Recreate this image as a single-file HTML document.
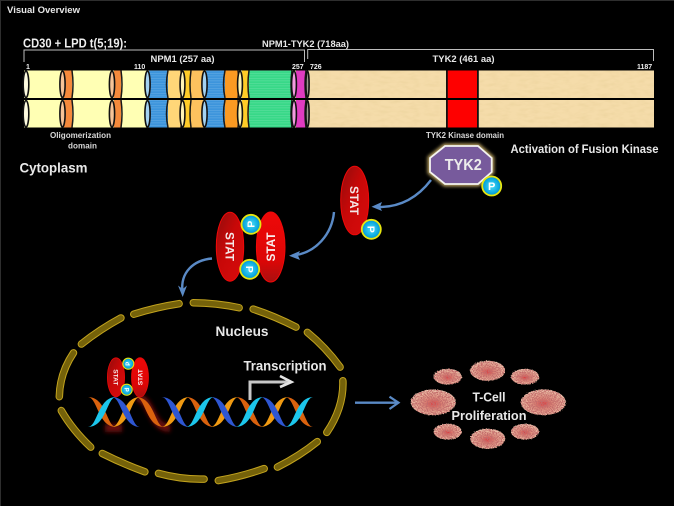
<!DOCTYPE html>
<html>
<head>
<meta charset="utf-8">
<style>
html,body{margin:0;padding:0;background:#000;}
svg{display:block;}
text{font-family:"Liberation Sans",sans-serif;}
</style>
</head>
<body>
<svg xmlns="http://www.w3.org/2000/svg" width="674" height="506" viewBox="0 0 674 506">
<defs>
  <linearGradient id="red" x1="0" y1="0" x2="1" y2="1">
    <stop offset="0" stop-color="#8f0d0d"/><stop offset=".45" stop-color="#c80808"/><stop offset="1" stop-color="#d80c0c"/>
  </linearGradient>
  <linearGradient id="red2" x1="0" y1="0" x2="0" y2="1">
    <stop offset="0" stop-color="#ee0808"/><stop offset=".7" stop-color="#dc0606"/><stop offset="1" stop-color="#a81010"/>
  </linearGradient>
  <radialGradient id="pg" cx=".5" cy=".5" r=".55">
    <stop offset="0" stop-color="#4fdcf5"/><stop offset=".7" stop-color="#0aa9e0"/><stop offset="1" stop-color="#0878b8"/>
  </radialGradient>
  <radialGradient id="cell" cx=".5" cy=".55" r=".55">
    <stop offset="0" stop-color="#d8383c"/><stop offset=".35" stop-color="#dc8676"/><stop offset=".85" stop-color="#ecbea6"/><stop offset="1" stop-color="#f0d2bc"/>
  </radialGradient>
  <pattern id="lines" width="4" height="2.500" patternUnits="userSpaceOnUse"><rect width="4" height=".7" fill="#fff" opacity=".16"/></pattern>
  <filter id="paper" x="0" y="0" width="100%" height="100%">
    <feTurbulence type="fractalNoise" baseFrequency=".1 .3" numOctaves="3" seed="4" result="n"/>
    <feColorMatrix in="n" type="matrix" values="0 0 0 0 .8  0 0 0 0 .62  0 0 0 0 .3  .9 0 0 0 -.34" result="c"/>
    <feComposite in="c" in2="SourceGraphic" operator="atop"/>
  </filter>
  <filter id="speck" x="-10%" y="-10%" width="120%" height="120%">
    <feTurbulence type="fractalNoise" baseFrequency=".8" numOctaves="2" seed="7" result="n"/>
    <feDisplacementMap in="SourceGraphic" in2="n" scale="2" result="d"/>
    <feColorMatrix in="n" type="matrix" values="0 0 0 0 .55  0 0 0 0 .15  0 0 0 0 .15  4.500 0 0 0 -1.700" result="c"/>
    <feComposite in="c" in2="d" operator="atop" result="s"/>
    <feMerge><feMergeNode in="d"/><feMergeNode in="s"/></feMerge>
  </filter>
  <filter id="blur" x="-20%" y="-40%" width="140%" height="180%"><feGaussianBlur stdDeviation="2"/></filter>
  <filter id="glow" x="-20%" y="-20%" width="140%" height="140%"><feGaussianBlur stdDeviation="1.6"/></filter>

  <g id="bar">
    <rect x="24" y="0" width="285" height="27.5" fill="#ffffb4"/>
    <rect x="64" y="0" width="8" height="27.5" fill="#f58a3c"/>
    <rect x="114" y="0" width="7" height="27.5" fill="#f58a3c"/>
    <rect x="149" y="0" width="19" height="27.5" fill="#3d95dc"/>
    <rect x="168" y="0" width="13" height="27.5" fill="#ffd678"/>
    <rect x="184" y="0" width="7" height="27.5" fill="#ffcc28"/>
    <rect x="191" y="0" width="12" height="27.5" fill="#fdc25e"/>
    <rect x="206" y="0" width="19" height="27.5" fill="#3d95dc"/>
    <rect x="225" y="0" width="13" height="27.5" fill="#fb9a22"/>
    <rect x="242" y="0" width="7" height="27.5" fill="#ffcc28"/>
    <rect x="249" y="0" width="43" height="27.5" fill="#38d888"/>
    <rect x="296" y="0" width="10" height="27.5" fill="#e03cc0"/>
    <rect x="149" y="0" width="19" height="27.5" fill="url(#lines)"/>
    <rect x="206" y="0" width="19" height="27.5" fill="url(#lines)"/>
    <rect x="249" y="0" width="43" height="27.5" fill="url(#lines)"/>
    <rect x="309" y="0" width="137.500" height="27.5" fill="#f5dcaa" filter="url(#paper)"/>
    <rect x="447" y="0" width="30" height="27.5" fill="#fe0000"/>
    <rect x="478.500" y="0" width="175.500" height="27.5" fill="#f5dcaa" filter="url(#paper)"/>
    <rect x="446" y="0" width="1.800" height="27.5" fill="#111"/>
    <rect x="477" y="0" width="1.800" height="27.5" fill="#111"/>
    <g fill="none" stroke="#1a1a1a" stroke-width="1.500">
      <path d="M72,0Q74,14 72,27.500"/><path d="M121,0Q123,14 121,27.500"/>
      <path d="M168,0Q165,14 168,27.500"/><path d="M181,0Q183,14 181,27.500"/>
      <path d="M191,0Q189,14 191,27.500"/><path d="M225,0Q222,14 225,27.500"/>
      <path d="M238,0Q240,14 238,27.500"/><path d="M249,0Q247,14 249,27.500"/>
      <path d="M292,0Q290,14 292,27.500"/>
      <path d="M306,0Q304,14 306,27.500"/>
    </g>
    <g stroke="#111" stroke-width="1.600">
      <ellipse cx="26" cy="13.800" rx="2.800" ry="13.300" fill="#fffce0"/>
      <ellipse cx="62.500" cy="13.800" rx="2.600" ry="13.300" fill="#f6c498"/>
      <ellipse cx="112" cy="13.800" rx="2.600" ry="13.300" fill="#f6c498"/>
      <ellipse cx="147.500" cy="13.800" rx="2.600" ry="13.300" fill="#a3d2f2"/>
      <ellipse cx="182.500" cy="13.800" rx="2.400" ry="13.300" fill="#fff4b4"/>
      <ellipse cx="204.500" cy="13.800" rx="2.600" ry="13.300" fill="#a3d2f2"/>
      <ellipse cx="240" cy="13.800" rx="2.400" ry="13.300" fill="#fff4b4"/>
      <ellipse cx="294" cy="13.800" rx="2.400" ry="13.300" fill="#f29ade"/>
      <ellipse cx="307.500" cy="13.800" rx="1.600" ry="13.300" fill="#9a9a8c"/>
    </g>
  </g>

  <g id="pball">
    <circle r="9.500" fill="url(#pg)" stroke="#e6e610" stroke-width="1.800"/>
  </g>

  <path id="dn" d="M-2,0C17,0 17,30 26.500,30C8,30 8,0 -2,0Z"/>
  <path id="up" d="M-2,30C17,30 17,0 26.500,0C8,0 8,30 -2,30Z"/>

  <g id="nuc">
    <path pathLength="100" stroke-dasharray="90 100" stroke-dashoffset="-5" d="M131.300,315Q156,307 181.700,303.300"/>
    <path pathLength="100" stroke-dasharray="90 100" stroke-dashoffset="-5" d="M190.700,302.700Q216,302.500 241.700,308.300"/>
    <path pathLength="100" stroke-dasharray="90 100" stroke-dashoffset="-5" d="M250.700,308.300Q275,316 298.300,328.300"/>
    <path pathLength="100" stroke-dasharray="90 100" stroke-dashoffset="-5" d="M305.300,330.700Q326,347 341.700,369.300"/>
    <path pathLength="100" stroke-dasharray="90 100" stroke-dashoffset="-5" d="M342.700,377.700Q345,407 325,435"/>
    <path pathLength="100" stroke-dasharray="90 100" stroke-dashoffset="-5" d="M319.300,440Q300,456 275,468.300"/>
    <path pathLength="100" stroke-dasharray="90 100" stroke-dashoffset="-5" d="M266.700,467.700Q241,477 215.700,481"/>
    <path pathLength="100" stroke-dasharray="90 100" stroke-dashoffset="-5" d="M206.700,479Q181,480 156,472.700"/>
    <path pathLength="100" stroke-dasharray="90 100" stroke-dashoffset="-5" d="M147.300,472.700Q123,464 100,452.300"/>
    <path pathLength="100" stroke-dasharray="90 100" stroke-dashoffset="-5" d="M92.700,449Q72,430 60,408.300"/>
    <path pathLength="100" stroke-dasharray="90 100" stroke-dashoffset="-5" d="M59.300,399.300Q59,373 75,350.700"/>
    <path pathLength="100" stroke-dasharray="90 100" stroke-dashoffset="-5" d="M79.300,345.700Q100,329 123.300,316.700"/>
  </g>
</defs>

<rect width="674" height="506" fill="#000"/>
<path d="M.5,506V.5H674" fill="none" stroke="#2e2e2e" stroke-width="1"/>

<text x="7" y="13" font-size="9" font-weight="bold" fill="#e8e8e8" textLength="73" lengthAdjust="spacingAndGlyphs">Visual Overview</text>
<text x="23" y="47.500" font-size="13" font-weight="bold" fill="#eee" textLength="104" lengthAdjust="spacingAndGlyphs">CD30 + LPD t(5;19):</text>
<text x="262" y="47" font-size="9.500" font-weight="bold" fill="#e8e8e8" textLength="87" lengthAdjust="spacingAndGlyphs">NPM1-TYK2  (718aa)</text>

<path d="M24,62V50H304.500V62" fill="none" stroke="#bdbdbd" stroke-width="1"/>
<path d="M307.700,59V49.500H653.500V61" fill="none" stroke="#bdbdbd" stroke-width="1"/>

<text x="150.500" y="62" font-size="9.500" font-weight="bold" fill="#e8e8e8" textLength="64" lengthAdjust="spacingAndGlyphs">NPM1 (257 aa)</text>
<text x="432.500" y="62" font-size="9.500" font-weight="bold" fill="#e8e8e8" textLength="62" lengthAdjust="spacingAndGlyphs">TYK2 (461 aa)</text>

<g font-size="7" font-weight="bold" fill="#eee">
  <text x="26" y="69">1</text>
  <text x="134" y="69">110</text>
  <text x="292" y="69">257</text>
  <text x="310" y="69">726</text>
  <text x="637" y="69">1187</text>
</g>

<use href="#bar" x="0" y="70.500"/>
<use href="#bar" x="0" y="100"/>

<text x="80.500" y="138" text-anchor="middle" font-size="8.500" font-weight="bold" fill="#d8d8d8" textLength="61" lengthAdjust="spacingAndGlyphs">Oligomerization</text>
<text x="82.500" y="148.500" text-anchor="middle" font-size="8.500" font-weight="bold" fill="#d8d8d8" textLength="29" lengthAdjust="spacingAndGlyphs">domain</text>
<text x="465" y="138" text-anchor="middle" font-size="8" font-weight="bold" fill="#d8d8d8" textLength="78" lengthAdjust="spacingAndGlyphs">TYK2 Kinase domain</text>
<text x="19.500" y="172.700" font-size="14" font-weight="bold" fill="#e8e8e8" textLength="68" lengthAdjust="spacingAndGlyphs">Cytoplasm</text>
<text x="510.500" y="153" font-size="11.500" font-weight="bold" fill="#e8e8e8" textLength="148" lengthAdjust="spacingAndGlyphs">Activation of Fusion Kinase</text>

<!-- TYK2 -->
<polygon points="445,146 478,146 491.700,158 491.700,172 478,184 445,184 430,172 430,158" fill="none" stroke="#b8a060" stroke-width="5" filter="url(#glow)"/>
<polygon points="445,146 478,146 491.700,158 491.700,172 478,184 445,184 430,172 430,158" fill="#775a9c" stroke="#f4f4f0" stroke-width="1.800"/>
<text x="463.300" y="170" text-anchor="middle" font-size="15.500" font-weight="bold" fill="#ececec" textLength="37" lengthAdjust="spacingAndGlyphs">TYK2</text>
<use href="#pball" x="491.700" y="186"/>
<text x="491.700" y="190" text-anchor="middle" font-size="11" font-weight="bold" fill="#fff">P</text>

<!-- arrows -->
<g fill="none" stroke="#5a8ac6" stroke-width="2.400">
  <path d="M431,180C418,197 400,208 376,207"/>
  <path d="M334,212C332,234 316,253 293,255.500"/>
  <path d="M212,258.500C194,260 180,272 182.500,292"/>
  <path d="M355,402.700H398"/>
  <path d="M389.500,396.700L398.500,402.700L389.500,409" stroke-width="2.200"/>
</g>
<g fill="#5a8ac6">
  <path d="M371.500,206.700L382,202L380,207L382,211Z"/>
  <path d="M289,255.700L300,251L298,255.500L300,260Z"/>
  <path d="M182.700,297L178,285.500L182.700,289L187,285.500Z"/>
</g>

<!-- single STAT -->
<ellipse cx="354.700" cy="200.500" rx="14" ry="34.300" fill="url(#red)" stroke="#f00808" stroke-width="1"/>
<text transform="translate(350,200.500) rotate(90)" text-anchor="middle" font-size="11.500" font-weight="bold" fill="#f4e8e8" textLength="29" lengthAdjust="spacingAndGlyphs">STAT</text>
<use href="#pball" x="371.300" y="229.300"/>
<text transform="translate(367.500,229.300) rotate(90)" text-anchor="middle" font-size="10.500" font-weight="bold" fill="#fff">P</text>

<!-- dimer -->
<ellipse cx="230" cy="246.700" rx="13.700" ry="34.500" fill="url(#red)" stroke="#f00808" stroke-width="1"/>
<text transform="translate(225.500,246.500) rotate(90)" text-anchor="middle" font-size="11.500" font-weight="bold" fill="#f4e8e8" textLength="29" lengthAdjust="spacingAndGlyphs">STAT</text>
<ellipse cx="270.700" cy="247" rx="14.300" ry="35" fill="url(#red2)" stroke="#f00808" stroke-width="1"/>
<text transform="translate(275,247) rotate(-90)" text-anchor="middle" font-size="11.500" font-weight="bold" fill="#f8eeee" textLength="29" lengthAdjust="spacingAndGlyphs">STAT</text>
<use href="#pball" x="251" y="224.300"/>
<text transform="translate(254.500,224.300) rotate(-90)" text-anchor="middle" font-size="10.500" font-weight="bold" fill="#fff">P</text>
<use href="#pball" x="249.700" y="269.300"/>
<text transform="translate(246,269.300) rotate(90)" text-anchor="middle" font-size="10.500" font-weight="bold" fill="#fff">P</text>

<!-- nucleus -->
<g fill="none" stroke-linecap="round">
  <use href="#nuc" stroke="#c2a31e" stroke-width="7.500"/>
  <use href="#nuc" stroke="#75620a" stroke-width="5.500"/>
</g>
<text x="215.500" y="336" font-size="13.500" font-weight="bold" fill="#e8e8e8" textLength="53" lengthAdjust="spacingAndGlyphs">Nucleus</text>
<text x="243.500" y="370.700" font-size="13.500" font-weight="bold" fill="#e8e8e8" textLength="83" lengthAdjust="spacingAndGlyphs">Transcription</text>

<!-- red shadow -->
<path d="M105,428H122M137,398C152,398 150,428 170,428" fill="none" stroke="#6a0e0e" stroke-width="8" filter="url(#blur)"/>

<!-- DNA -->
<g transform="translate(0,397)">
  <use href="#dn" x="89.700" fill="#da620e"/>
  <use href="#up" x="113.700" fill="#f09a12"/>
  <use href="#dn" x="137.700" fill="#da620e"/>
  <use href="#up" x="163.300" fill="#f09a12"/>
  <use href="#dn" x="187.700" fill="#da620e"/>
  <use href="#up" x="212.300" fill="#f09a12"/>
  <use href="#dn" x="237.300" fill="#da620e"/>
  <use href="#up" x="262.300" fill="#f09a12"/>
  <use href="#dn" x="287" fill="#da620e"/>
  <use href="#up" x="89.700" fill="#1cc6ec"/>
  <use href="#dn" x="113.700" fill="#2e56d2"/>
  <use href="#dn" x="163.300" fill="#2e56d2"/>
  <use href="#up" x="187.700" fill="#1cc6ec"/>
  <use href="#dn" x="212.300" fill="#2e56d2"/>
  <use href="#up" x="237.300" fill="#1cc6ec"/>
  <use href="#dn" x="262.300" fill="#2e56d2"/>
  <use href="#up" x="287" fill="#1cc6ec"/>
</g>

<!-- promoter arrow -->
<path d="M250,400V382H290" fill="none" stroke="#c8c8c8" stroke-width="3"/>
<path d="M280,376L291.500,382L280,387" fill="none" stroke="#e4e4e4" stroke-width="2.600"/>

<!-- nuclear STAT dimer -->
<ellipse cx="116" cy="377.300" rx="8.600" ry="19.500" fill="url(#red)" stroke="#e80808" stroke-width=".8"/>
<text transform="translate(113.700,377.300) rotate(90)" text-anchor="middle" font-size="6.500" font-weight="bold" fill="#f4e8e8">STAT</text>
<ellipse cx="140" cy="377.300" rx="8.500" ry="19.700" fill="url(#red2)" stroke="#e80808" stroke-width=".8"/>
<text transform="translate(142.300,377.300) rotate(-90)" text-anchor="middle" font-size="6.500" font-weight="bold" fill="#f8eeee">STAT</text>
<circle cx="128.300" cy="363.700" r="5.500" fill="url(#pg)" stroke="#e6e610" stroke-width="1.100"/>
<text transform="translate(130.200,363.700) rotate(-90)" text-anchor="middle" font-size="6" font-weight="bold" fill="#fff">P</text>
<circle cx="126.700" cy="389.700" r="5.500" fill="url(#pg)" stroke="#e6e610" stroke-width="1.100"/>
<text transform="translate(124.700,389.700) rotate(90)" text-anchor="middle" font-size="6" font-weight="bold" fill="#fff">P</text>

<!-- cells -->
<g fill="url(#cell)" filter="url(#speck)">
  <ellipse cx="433.300" cy="402.300" rx="22.500" ry="12.800"/>
  <ellipse cx="543.300" cy="402.300" rx="22.500" ry="12.800"/>
  <ellipse cx="487.700" cy="370.700" rx="17.500" ry="10"/>
  <ellipse cx="487.700" cy="438.700" rx="17.500" ry="10"/>
  <ellipse cx="447.700" cy="376.700" rx="14" ry="7.800"/>
  <ellipse cx="525" cy="376.700" rx="14" ry="7.800"/>
  <ellipse cx="447.700" cy="431.700" rx="14" ry="7.800"/>
  <ellipse cx="525" cy="431.700" rx="14" ry="7.800"/>
</g>
<text x="489" y="401.700" text-anchor="middle" font-size="13" font-weight="bold" fill="#e8e8e8" textLength="33" lengthAdjust="spacingAndGlyphs">T-Cell</text>
<text x="489" y="420" text-anchor="middle" font-size="13" font-weight="bold" fill="#e8e8e8" textLength="75" lengthAdjust="spacingAndGlyphs">Proliferation</text>
</svg>
</body>
</html>
